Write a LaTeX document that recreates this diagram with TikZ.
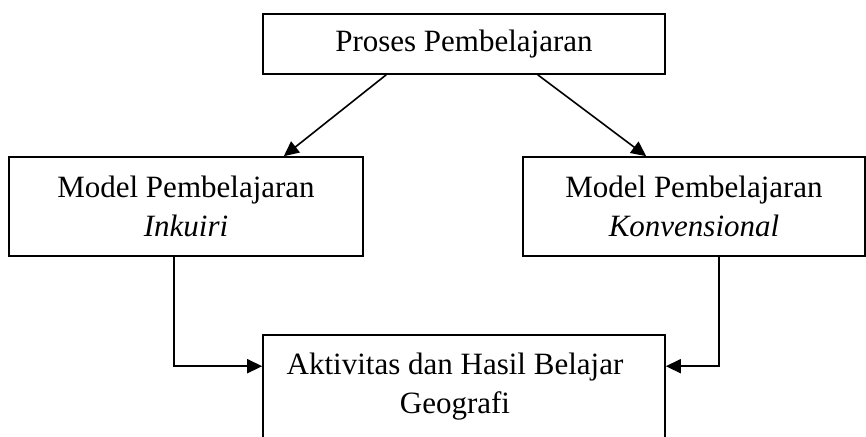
\documentclass[tikz,border=0pt]{standalone}
\usepackage{fontspec}
\setmainfont{Liberation Serif}
\usetikzlibrary{positioning,arrows.meta,calc}
\tikzset{
  kp/.style={font=\fontsize{31}{39}\selectfont, text=black},
  kpbox/.style={kp, draw=black, line width=1.6pt, align=center, inner sep=0pt},
  kparr/.style={-{Triangle[length=15pt,width=14pt]}, line width=1.6pt, draw=black},
}

\begin{document}
\begin{tikzpicture}[kp, x=1pt, y=1pt]
    \clip (0,0) rectangle (866,436);

    % Proses
    \node[kpbox, minimum width=402pt, minimum height=60pt] (proses) at (464,392) {Proses Pembelajaran};

    % Model pembelajaran
    \node[kpbox, minimum width=354pt, minimum height=99pt] (inkuiri) at (186,229.5) {Model Pembelajaran\\\textit{Inkuiri}};
    \node[kpbox, minimum width=342pt, minimum height=99pt] (konvensional) at (694,229.5) {Model Pembelajaran\\\textit{Konvensional}};

    % Hasil
    \node[kpbox, minimum width=402pt, minimum height=104pt,
      label={[kp, align=center, xshift=-9pt]center:Aktivitas dan Hasil Belajar\\Geografi}] (hasil) at (464,49) {};

    \draw[kparr] ($(proses.south west)+(124,0)$) -- ($(inkuiri.north east)+(-80,0)$);
    \draw[kparr] ($(proses.south east)+(-128,0)$) -- ($(konvensional.north west)+(124,0)$);

    \draw[kparr] ($(inkuiri.south)+(-12,0)$) |- ($(hasil.north west)+(0,-32)$);
    \draw[kparr] ($(konvensional.south)+(25,0)$) |- ($(hasil.north east)+(0,-32)$);
\end{tikzpicture}
\end{document}
